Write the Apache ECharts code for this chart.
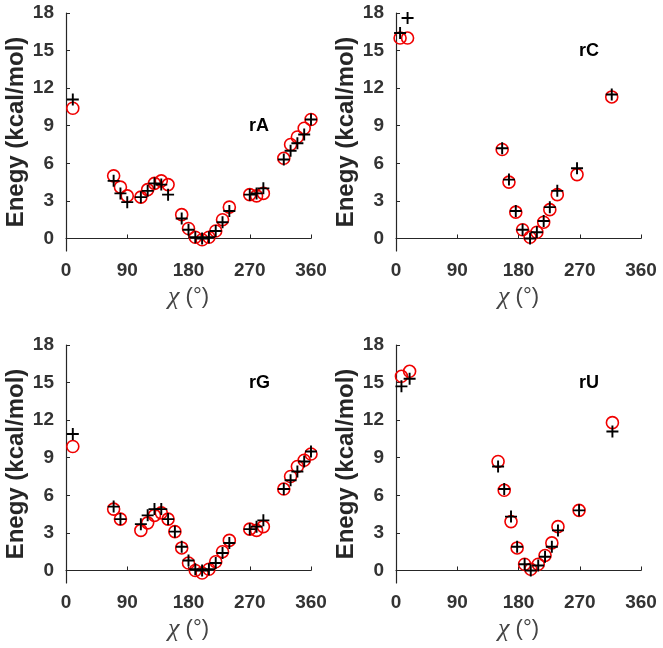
<!DOCTYPE html>
<html>
<head>
<meta charset="utf-8">
<script src="https://cdn.jsdelivr.net/npm/echarts@6/dist/echarts.min.js"></script>
<style>
  html, body { margin: 0; padding: 0; background: #fff; }
  #main { width: 663px; height: 648px; }
</style>
</head>
<body>
<div id="main"></div>
<script>
// chi angle (deg) and relative energies, red circles vs black pluses
var aChi  = [10, 70, 80, 90, 110, 120, 130, 140, 150, 170, 180, 190, 200, 210, 220, 230, 240, 270, 280, 290, 320, 330, 340, 350, 360];
var aCirc = [10.4, 5.0, 4.1, 3.4, 3.3, 3.9, 4.4, 4.6, 4.3, 1.9, 0.8, 0.1, -0.1, 0.1, 0.6, 1.5, 2.5, 3.5, 3.4, 3.6, 6.4, 7.5, 8.1, 8.8, 9.5];
var aPlus = [11.1, 4.6, 3.6, 2.9, 3.3, 3.8, 4.4, 4.3, 3.5, 1.6, 0.7, 0.1, 0.0, 0.1, 0.6, 1.3, 2.2, 3.5, 3.6, 4.0, 6.3, 7.0, 7.6, 8.3, 9.5];

var cChi  = [6, 17, 156, 166, 176, 186, 197, 207, 217, 226, 237, 266, 317];
var cCirc = [16.0, 16.0, 7.1, 4.5, 2.1, 0.7, 0.1, 0.5, 1.3, 2.3, 3.5, 5.1, 11.3];
var cPlus = [16.4, 17.6, 7.2, 4.7, 2.2, 0.7, 0.0, 0.5, 1.4, 2.5, 3.8, 5.6, 11.5];

var gChi  = [10, 70, 80, 110, 120, 130, 140, 150, 160, 170, 180, 190, 200, 210, 220, 230, 240, 270, 280, 290, 320, 330, 340, 350, 360];
var gCirc = [9.9, 4.9, 4.1, 3.2, 3.8, 4.4, 4.6, 4.1, 3.1, 1.8, 0.6, 0.0, -0.2, 0.1, 0.7, 1.5, 2.4, 3.3, 3.2, 3.5, 6.5, 7.5, 8.3, 8.8, 9.3];
var gPlus = [10.9, 5.1, 4.1, 3.7, 4.4, 4.9, 4.9, 4.1, 3.1, 1.9, 0.8, 0.1, 0.0, 0.1, 0.6, 1.4, 2.2, 3.3, 3.5, 4.0, 6.5, 7.2, 7.9, 8.7, 9.5];

var uChi  = [8, 20, 150, 159, 169, 178, 189, 198, 209, 219, 229, 238, 269, 318];
var uCirc = [15.5, 15.9, 8.7, 6.4, 3.9, 1.8, 0.5, 0.1, 0.5, 1.2, 2.2, 3.5, 4.8, 11.8];
var uPlus = [14.7, 15.3, 8.3, 6.5, 4.3, 1.9, 0.5, 0.0, 0.4, 1.1, 1.9, 3.2, 4.8, 11.1];

var panelNames = ['rA', 'rC', 'rG', 'rU'];
var yTicks = [0, 3, 6, 9, 12, 15, 18];

var panels = [
    {chi: aChi, circ: aCirc, plus: aPlus},
    {chi: cChi, circ: cCirc, plus: cPlus},
    {chi: gChi, circ: gCirc, plus: gPlus},
    {chi: uChi, circ: uCirc, plus: uPlus}
];

// layout
var grids = [
    {left: 66, top: 13, width: 245, height: 238},
    {left: 396, top: 13, width: 245, height: 238},
    {left: 66, top: 345, width: 245, height: 238},
    {left: 396, top: 345, width: 245, height: 238}
];
var labelPos = [
    {left: 249, top: 117},
    {left: 579, top: 42},
    {left: 249, top: 374},
    {left: 579, top: 374}
];

var axisColor = '#262626';
var plusPath = 'path://M42,0H58V42H100V58H58V100H42V58H0V42H42Z';

function pairs(xs, ys) {
    var res = [];
    for (var i = 0; i < xs.length; i++) {
        res.push([xs[i], ys[i]]);
    }
    return res;
}

var xAxes = [], yAxes = [], series = [], titles = [];
for (var k = 0; k < 4; k++) {
    xAxes.push({
        type: 'value',
        gridIndex: k,
        min: 0,
        max: 360,
        interval: 90,
        name: '{g|χ} (°)',
        nameLocation: 'middle',
        nameGap: 33,
        nameTextStyle: {
            fontFamily: 'Liberation Sans',
            fontSize: 22,
            color: '#444',
            rich: {
                g: {fontFamily: 'Liberation Serif', fontStyle: 'italic', fontSize: 26, color: '#444'}
            }
        },
        axisLine: {lineStyle: {color: axisColor, width: 1.2}},
        axisTick: {inside: true, length: 4, lineStyle: {color: axisColor}},
        axisLabel: {
            margin: 10,
            fontFamily: 'Liberation Sans',
            fontWeight: 'bold',
            fontSize: 19,
            color: '#333'
        },
        splitLine: {show: false}
    });
    yAxes.push({
        type: 'value',
        gridIndex: k,
        min: -1,
        max: 18,
        name: 'Enegy (kcal/mol)',
        nameLocation: 'middle',
        nameGap: 38,
        nameTextStyle: {
            fontFamily: 'Liberation Sans',
            fontWeight: 'bold',
            fontSize: 24,
            color: axisColor
        },
        axisLine: {show: true, lineStyle: {color: axisColor, width: 1.2}},
        axisTick: {show: true, inside: true, length: 4, customValues: yTicks, lineStyle: {color: axisColor}},
        axisLabel: {
            customValues: yTicks,
            margin: 12,
            fontFamily: 'Liberation Sans',
            fontWeight: 'bold',
            fontSize: 19,
            color: '#333'
        },
        splitLine: {show: false}
    });
    series.push({
        type: 'scatter',
        xAxisIndex: k,
        yAxisIndex: k,
        symbol: 'circle',
        symbolSize: 12,
        data: pairs(panels[k].chi, panels[k].circ),
        itemStyle: {color: 'rgba(0,0,0,0)', borderColor: '#f00000', borderWidth: 1.6, opacity: 1}
    });
    series.push({
        type: 'scatter',
        xAxisIndex: k,
        yAxisIndex: k,
        symbol: plusPath,
        symbolSize: 12,
        data: pairs(panels[k].chi, panels[k].plus),
        itemStyle: {color: '#000', opacity: 1}
    });
    titles.push({
        text: panelNames[k],
        left: labelPos[k].left,
        top: labelPos[k].top,
        padding: 0,
        textStyle: {fontFamily: 'Liberation Sans', fontWeight: 'bold', fontSize: 18, color: '#000'}
    });
}

var myChart = echarts.init(document.getElementById('main'));
var option = {
    backgroundColor: '#fff',
    animation: false,
    title: titles,
    grid: grids,
    xAxis: xAxes,
    yAxis: yAxes,
    series: series
};
myChart.setOption(option);
</script>
</body>
</html>
